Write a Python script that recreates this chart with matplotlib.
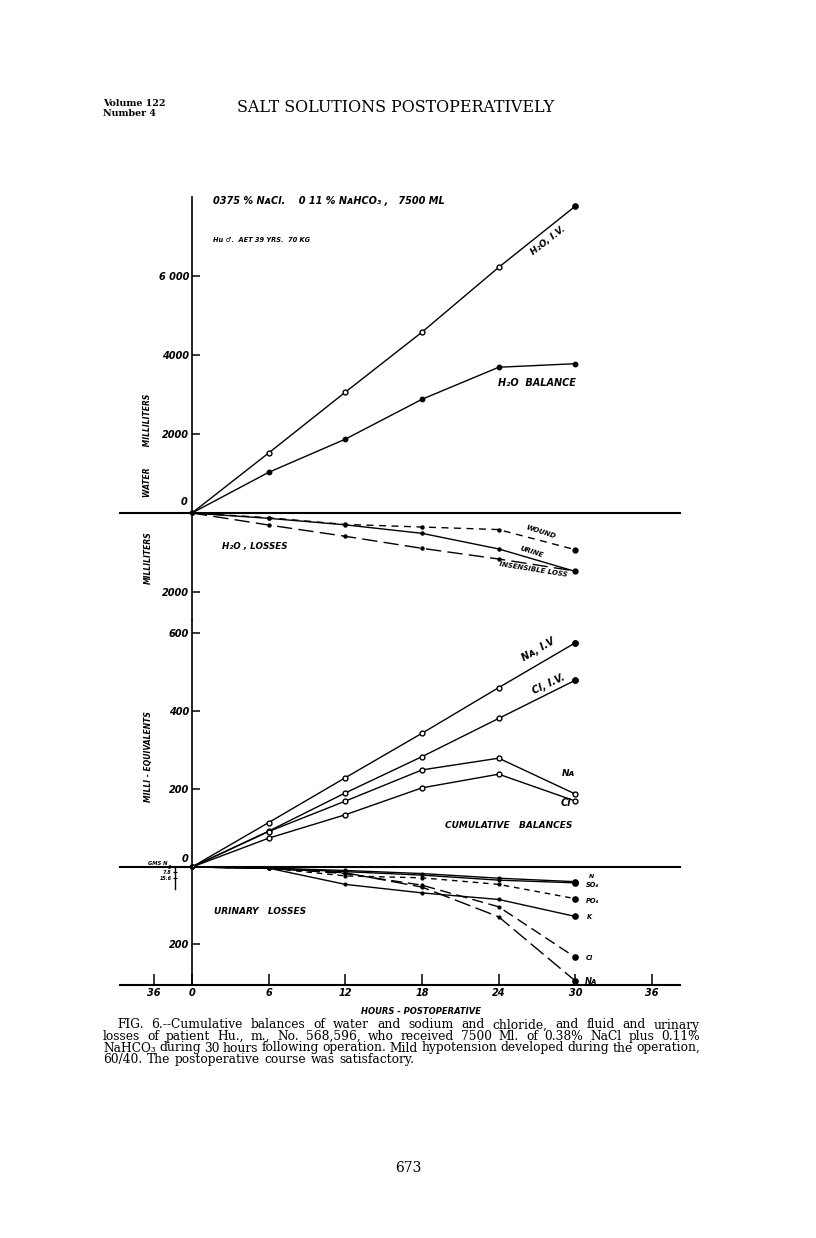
import matplotlib
matplotlib.use('Agg')
import matplotlib.pyplot as plt

W, H = 816, 1238

hours = [0, 6, 12, 18, 24, 30]

# water (ml)
h2o_iv = [0, 1520, 3060, 4580, 6220, 7770]
h2o_balance = [0, 1030, 1870, 2880, 3690, 3780]

# water losses (ml)
wound = [0, 120, 290, 355, 420, 930]
urine = [0, 135, 300, 515, 910, 1480]
insensible = [0, 305, 590, 895, 1165, 1470]

# cumulative balances (milli-equivalents)
na_iv = [0, 114, 229, 343, 460, 575]
cl_iv = [0, 92, 190, 283, 381, 479]
na_bal = [0, 91, 169, 249, 279, 187]
cl_bal = [0, 74, 134, 203, 238, 169]

# urinary losses (milli-equivalents)
u_n = [0, 3, 9, 17, 29, 38]
u_so4 = [0, 3, 12, 21, 34, 41]
u_po4 = [0, 3, 23, 28, 45, 82]
u_k = [0, 3, 45, 67, 84, 128]
u_cl = [0, 3, 17, 47, 103, 234]
u_na = [0, 3, 15, 52, 129, 295]

hour_ticks = [-3, 0, 6, 12, 18, 24, 30, 36]
hour_labels = ['36', '0', '6', '12', '18', '24', '30', '36']
gms_ticks = [0, 7.8, 15.6]
gms_labels = ['0', '7.8', '15.6']

caption = [
    "FIG. 6.--Cumulative balances of water and sodium and chloride, and fluid and urinary",
    "losses of patient Hu., m., No. 568,596, who received 7500 Ml. of 0.38% NaCl plus 0.11%",
    "NaHCO\u2083 during 30 hours following operation. Mild hypotension developed during the operation,",
    "60/40. The postoperative course was satisfactory.",
]

plt.rcParams['font.family'] = 'DejaVu Sans'
plt.rcParams['font.style'] = 'italic'
plt.rcParams['font.weight'] = 'bold'

fig = plt.figure(figsize=(W / 100, H / 100), dpi=100)


def box(left, top, right, bottom):
    return [left / W, 1 - bottom / H, (right - left) / W, (bottom - top) / H]


# hour 0 sits at x=192 px, 12.78 px per hour
X0, PXH = 192, 12.78
xlim = ((120 - X0) / PXH, (680 - X0) / PXH)


def panel(top, bottom, ylim):
    ax = fig.add_axes(box(120, top, 680, bottom))
    ax.set_xlim(xlim)
    ax.set_ylim(ylim)
    ax.patch.set_alpha(0)
    for s in ['top', 'right', 'bottom']:
        ax.spines[s].set_visible(False)
    ax.spines['left'].set_position(('data', 0))
    ax.spines['left'].set_linewidth(1.2)
    ax.set_xticks([])
    ax.tick_params(axis='y', direction='in', length=6, width=1.1, pad=2, labelsize=7)
    return ax


def ptext(x, y, s, size=7, rot=0, ha='center', va='center', **kw):
    return fig.text(x / W, 1 - y / H, s, fontsize=size, rotation=rot, ha=ha, va=va,
                    rotation_mode='anchor', **kw)


lw = 1.0
# ---- water panel
ax1 = panel(190, 513, (0, 323 / 0.0395))
ax1.spines['left'].set_bounds(0, 8000)
ax1.set_yticks([2000, 4000, 6000])
ax1.set_yticklabels(['2000', '4000', '6 000'])
ax1.axhline(0, color='k', lw=1.5, clip_on=False)
ax1.plot(hours, h2o_iv, 'k-', lw=lw, marker='o', ms=3.5, mfc='white', mec='k', mew=1)
ax1.plot(hours[-1], h2o_iv[-1], 'ko', ms=3.5)
ax1.plot(hours, h2o_balance, 'k-', lw=lw, marker='o', ms=3.2, mfc='k', mec='k')

# ---- water losses panel
ax2 = panel(513, 620, (107 / 0.0395, 0))
ax2.set_yticks([2000])
ax2.set_yticklabels(['2000'])
ax2.plot(hours, wound, 'k', lw=lw, ls=(0, (5, 4)), marker='o', ms=2.2)
ax2.plot(hours, urine, 'k-', lw=lw, marker='o', ms=2.2)
ax2.plot(hours, insensible, 'k', lw=lw, ls=(0, (11, 4.5)), marker='o', ms=2.2)
ax2.plot([hours[-1]] * 2, [wound[-1], urine[-1]], 'ko', ms=3.5, ls='none')

# ---- cumulative balances panel
ax3 = panel(620, 867, (0, 247 / 0.39))
ax3.set_yticks([200, 400, 600])
ax3.set_yticklabels(['200', '400', '600'])
ax3.axhline(0, color='k', lw=1.5, clip_on=False)
for ser in [na_iv, cl_iv, na_bal, cl_bal]:
    ax3.plot(hours, ser, 'k-', lw=lw, marker='o', ms=3.5, mfc='white', mec='k', mew=1)
for ser in [na_iv, cl_iv]:
    ax3.plot(hours[-1], ser[-1], 'ko', ms=3.8)

# ---- urinary losses panel
ax4 = panel(867, 985, (118 / 0.3865, 0))
ax4.set_yticks([200])
ax4.set_yticklabels(['200'])
ax4.spines['bottom'].set_visible(True)
ax4.spines['bottom'].set_linewidth(1.5)
ax4.set_xticks(hour_ticks)
ax4.set_xticklabels(hour_labels)
ax4.tick_params(axis='x', direction='in', length=8, width=1.1, pad=2, labelsize=7)
styles = [(u_n, '-'), (u_so4, '-'), (u_po4, (0, (4, 3.5))), (u_k, '-'),
          (u_cl, (0, (8, 4))), (u_na, (0, (12, 4)))]
for ser, ls in styles:
    ax4.plot(hours, ser, 'k', lw=lw, ls=ls, marker='o', ms=2)
    ax4.plot(hours[-1], ser[-1], 'ko', ms=3.8)

# small GMS N scale
ax5 = fig.add_axes(box(175, 867, 185, 889))
ax5.set_ylim(22 / 0.705, 0)
ax5.patch.set_alpha(0)
for s in ['top', 'right', 'bottom']:
    ax5.spines[s].set_visible(False)
ax5.spines['left'].set_linewidth(1.0)
ax5.set_xticks([])
ax5.set_yticks(gms_ticks)
ax5.set_yticklabels(gms_labels)
ax5.tick_params(axis='y', direction='inout', length=3, width=0.8, pad=1, labelsize=3.5)

# ---- chart lettering
ptext(187, 507, '0', 7, ha='right', va='bottom')
ptext(188, 864, '0', 7, ha='right', va='bottom')
ptext(167, 866, 'GMS N', 3.8, ha='right', va='bottom')

ptext(213, 201, '0375 % N\u1d00Cl.    0 11 % N\u1d00HCO\u2083 ,   7500 ML', 7, ha='left')
ptext(213, 240, 'Hu \u2642.  AET 39 YRS.  70 KG', 4.8, ha='left')
ptext(548, 241, 'H\u2082O, I.V.', 6.5, rot=38)
ptext(537, 383, 'H\u2082O  BALANCE', 7)
ptext(255, 547, 'H\u2082O , LOSSES', 6.3)
ptext(541, 532, 'WOUND', 5, rot=-18)
ptext(532, 552, 'URINE', 5, rot=-18)
ptext(533, 569, 'INSENSIBLE LOSS', 5, rot=-9)
ptext(538, 650, 'N\u1d00, I.V', 7, rot=30)
ptext(549, 684, 'Cl, I.V.', 7, rot=25)
ptext(568, 773, 'N\u1d00', 6.5)
ptext(566, 803, 'Cl', 7)
ptext(509, 826, 'CUMULATIVE   BALANCES', 6.5)
ptext(260, 912, 'URINARY   LOSSES', 6.5)
ptext(421, 1012, 'HOURS - POSTOPERATIVE', 6)

ptext(589, 877, 'N', 4.5, ha='left')
ptext(586, 885, 'SO\u2084', 4.8, ha='left')
ptext(586, 901, 'PO\u2084', 4.8, ha='left')
ptext(587, 917, 'K', 4.8, ha='left')
ptext(586, 958, 'Cl', 4.8, ha='left')
ptext(585, 981, 'N\u1d00', 6, ha='left')

ptext(148, 445, 'WATER        MILLILITERS', 5.5, rot=90)
ptext(148, 558, 'MILLILITERS', 5.5, rot=90)
ptext(148, 757, 'MILLI - EQUIVALENTS', 5.5, rot=90)

# ---- page text
serif = dict(family='DejaVu Serif', style='normal')
ptext(103, 104, 'Volume 122', 6.8, ha='left', fontweight='bold', **serif)
ptext(103, 113, 'Number 4', 6.8, ha='left', fontweight='bold', **serif)
ptext(237, 108, 'SALT SOLUTIONS POSTOPERATIVELY', 11.4, ha='left', fontweight='normal', **serif)
ptext(408, 1168, '673', 10, fontweight='normal', **serif)

# justified caption
fig.canvas.draw()
r = fig.canvas.get_renderer()
cap_y = [1025, 1036.5, 1048, 1059.5]
for i, (line, y) in enumerate(zip(caption, cap_y)):
    left = 117 if i == 0 else 103
    words = line.split()
    items = [ptext(0, y, w, 8.8, ha='left', fontweight='normal', **serif) for w in words]
    widths = [t.get_window_extent(r).width for t in items]
    if i < len(caption) - 1:
        gap = (700 - left - sum(widths)) / (len(words) - 1)
    else:
        gap = 4.5
    x = left
    for t, wd in zip(items, widths):
        t.set_x(x / W)
        x += wd + gap

fig.savefig('out.png', dpi=100)
